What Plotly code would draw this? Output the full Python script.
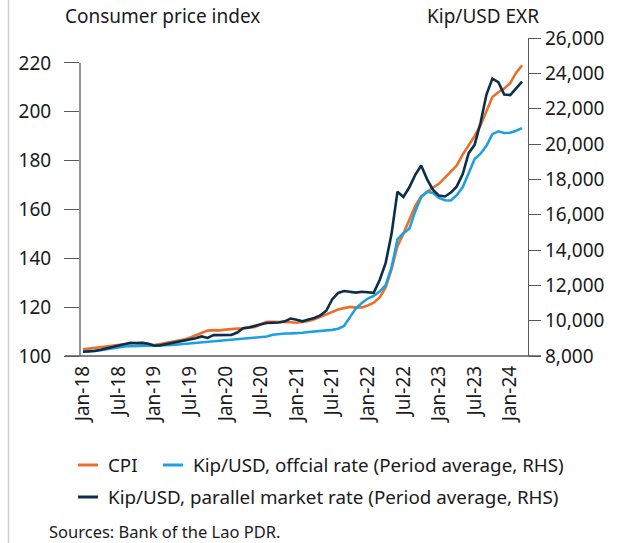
import plotly.graph_objects as go

months = ["Jan", "Feb", "Mar", "Apr", "May", "Jun", "Jul", "Aug", "Sep", "Oct", "Nov", "Dec"]
dates = [f"{months[i % 12]}-{18 + i // 12}" for i in range(75)]  # Jan-18 .. Mar-24

cpi = [102.7, 103.0, 103.3, 103.6, 103.9, 104.2, 104.5, 104.9, 105.2, 105.4,
       105.3, 104.9, 104.5, 104.9, 105.3, 105.7, 106.3, 106.7, 107.5, 108.5,
       109.6, 110.4, 110.6, 110.5, 110.8, 111.1, 111.2, 111.3, 111.5, 111.9,
       113.0, 114.0, 114.0, 114.0, 114.0, 113.8, 113.6, 113.8, 114.3, 115.0,
       116.0, 117.2, 118.0, 119.0, 119.6, 120.1, 119.8, 119.9, 120.7, 121.8,
       124.0, 128.0, 135.5, 145.0, 150.0, 155.5, 161.5, 165.3, 167.3, 169.0,
       170.5, 173.0, 175.5, 178.0, 182.5, 186.0, 190.0, 194.5, 200.0, 206.0,
       208.0, 209.5, 211.7, 216.0, 219.0]

official = [8240, 8260, 8280, 8330, 8380, 8440, 8500, 8540, 8560, 8570,
            8570, 8570, 8570, 8575, 8590, 8620, 8650, 8680, 8710, 8740,
            8770, 8790, 8810, 8850, 8870, 8880, 8930, 8960, 8980, 9010,
            9050, 9100, 9200, 9250, 9270, 9280, 9280, 9320, 9360, 9380,
            9410, 9440, 9480, 9540, 9700, 10200, 10700, 11000, 11250, 11400,
            11650, 12000, 13000, 14600, 14950, 15200, 16200, 17000, 17300, 17230,
            16950, 16820, 16800, 17100, 17560, 18340, 19150, 19450, 19900, 20560,
            20720, 20620, 20640, 20750, 20900]

parallel = [8240, 8260, 8280, 8350, 8430, 8500, 8600, 8680, 8750, 8720,
            8740, 8690, 8580, 8600, 8660, 8720, 8800, 8870, 8900, 9000,
            9110, 9020, 9180, 9190, 9190, 9190, 9330, 9570, 9620, 9720,
            9800, 9870, 9880, 9900, 9960, 10120, 10050, 9960, 10060, 10150,
            10300, 10560, 11200, 11570, 11680, 11640, 11590, 11640, 11620, 11580,
            12300, 13250, 14900, 17300, 17000, 17550, 18250, 18780, 18000, 17400,
            17080, 17030, 17250, 17600, 18300, 19480, 19950, 21200, 22800, 23700,
            23500, 22800, 22770, 23150, 23530]

series_names = ["CPI",
                "Kip/USD, offcial rate (Period average, RHS)",
                "Kip/USD, parallel market rate (Period average, RHS)"]
series_colors = ["#E8702A", "#1BA1E2", "#0C2E4A"]

tick_idx = list(range(0, 75, 6))
tick_text = [dates[i] for i in tick_idx]
cpi_ticks = [100, 120, 140, 160, 180, 200, 220]
exr_ticks = list(range(8000, 26001, 2000))

FONT = "Noto Sans"
FS = 19
TXT = "#1a1a1a"
AX = "#595959"
x = list(range(len(dates)))

# page body margin is removed below, so figure pixels = page pixels
W, H = 622, 543
L, T = 80, 38
R = W - 528
B = H - 356
pw, ph = W - L - R, H - T - B


def px(xp):
    return (xp - L) / pw


def py(yp):
    return (H - B - yp) / ph


fig = go.Figure()
fig.add_trace(go.Scatter(x=x, y=cpi, name=series_names[0], mode="lines",
                         line=dict(color=series_colors[0], width=2.6), yaxis="y"))
fig.add_trace(go.Scatter(x=x, y=official, name=series_names[1], mode="lines",
                         line=dict(color=series_colors[1], width=2.6), yaxis="y2"))
fig.add_trace(go.Scatter(x=x, y=parallel, name=series_names[2], mode="lines",
                         line=dict(color=series_colors[2], width=2.6), yaxis="y2"))

fig.update_layout(
    width=W, height=H,
    margin=dict(l=L, r=R, t=T, b=B, pad=0, autoexpand=False),
    paper_bgcolor="white", plot_bgcolor="white",
    font=dict(family=FONT, size=FS, color=TXT),
    showlegend=False,
    xaxis=dict(range=[-0.5, 75], tickvals=tick_idx, ticktext=tick_text, tickangle=-90,
               showgrid=False, zeroline=False, showline=False, ticks="",
               ticklabelstandoff=5, tickfont=dict(size=FS, color=TXT), automargin=False),
    yaxis=dict(range=[100, 230.2], tickvals=cpi_ticks, showgrid=False, zeroline=False,
               showline=False, ticks="outside", ticklen=15, tickwidth=1.3, tickcolor=AX,
               ticklabelstandoff=9, tickfont=dict(size=FS, color=TXT), automargin=False),
    yaxis2=dict(range=[8000, 26000], tickvals=exr_ticks, tickformat=",d", overlaying="y",
                side="right", showgrid=False, zeroline=False, showline=True, linecolor=AX,
                linewidth=1.3, ticks="outside", ticklen=12, tickwidth=1.3, tickcolor=AX,
                tickfont=dict(size=FS, color=TXT), automargin=False),
)

# left axis line only between first and last tick
fig.add_shape(type="line", xref="paper", yref="y", x0=0, x1=0, y0=100, y1=220,
              line=dict(color=AX, width=1.3))
# horizontal base line extending past both axes
fig.add_shape(type="line", xref="paper", yref="paper", x0=px(65), x1=px(541), y0=0, y1=0,
              line=dict(color=AX, width=1.3))
# light left border of the panel
fig.add_shape(type="line", xref="paper", yref="paper", x0=px(8.5), x1=px(8.5), y0=py(0), y1=py(543),
              line=dict(color="#d0d0d0", width=1.5))

# legend (two rows, as in the reference)
legend_pos = [(78, 465), (163, 465), (78, 497)]
for name, color, (lx, ly) in zip(series_names, series_colors, legend_pos):
    fig.add_shape(type="line", xref="paper", yref="paper", x0=px(lx), x1=px(lx + 20),
                  y0=py(ly), y1=py(ly), line=dict(color=color, width=3))
    fig.add_annotation(text=name, xref="paper", yref="paper", x=px(lx + 28), y=py(ly),
                       xanchor="left", yanchor="middle", showarrow=False,
                       font=dict(size=18.8, color=TXT))

fig.add_annotation(text="Consumer price index", xref="paper", yref="paper", x=px(63), y=py(16),
                   xanchor="left", yanchor="middle", showarrow=False, font=dict(size=FS, color=TXT))
fig.add_annotation(text="Kip/USD EXR", xref="paper", yref="paper", x=px(541), y=py(16),
                   xanchor="right", yanchor="middle", showarrow=False, font=dict(size=FS, color=TXT))
fig.add_annotation(text="Sources: Bank of the Lao PDR.", xref="paper", yref="paper", x=px(48), y=py(531),
                   xanchor="left", yanchor="middle", showarrow=False, borderpad=0,
                   font=dict(size=16.5, color=TXT))

fig.write_html("out.html", config={"displayModeBar": False},
               post_script="document.body.style.margin='0';")
